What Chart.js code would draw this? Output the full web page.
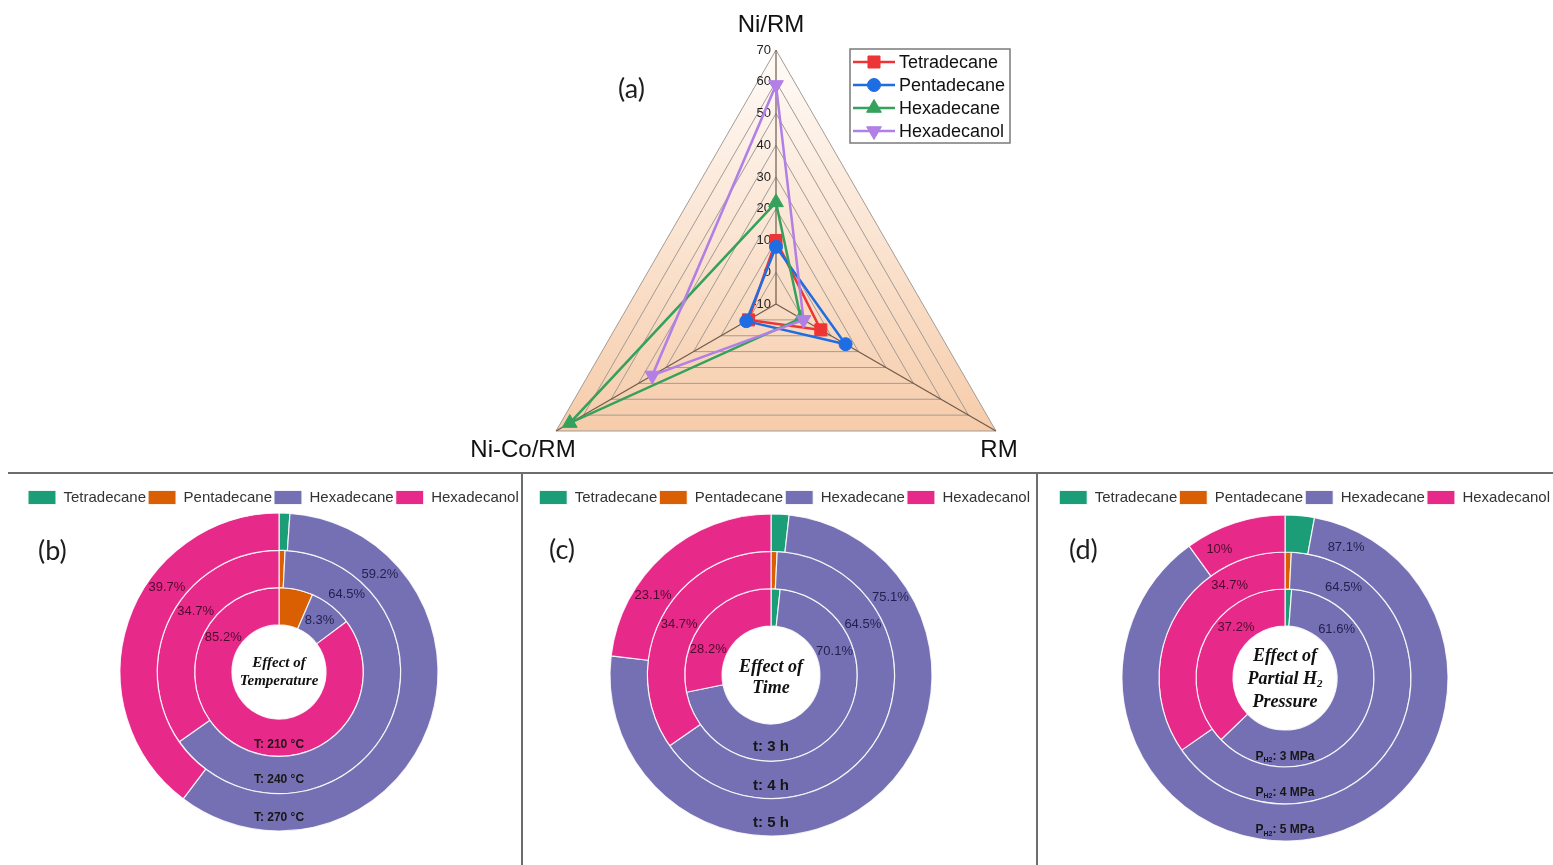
<!DOCTYPE html>
<html lang="en">
<head>
<meta charset="utf-8">
<title>Product distribution over Ni-based catalysts</title>
<script src="https://cdn.jsdelivr.net/npm/chart.js@4.4.1/dist/chart.umd.min.js"></script>
<style>
  html, body { margin: 0; padding: 0; background: #ffffff; }
  #page { position: relative; width: 1553px; height: 865px; overflow: hidden; background: #ffffff; }
  #page canvas { position: absolute; }
  .panel-tag { position: absolute; font-family: Lato, 'Open Sans', sans-serif; font-size: 27px; line-height: 27px; color: #1e1e1e; }
  .rule { position: absolute; background: #6d6d6d; }
</style>
</head>
<body>
<div id="page">
  <canvas id="radarChart" width="600" height="560" style="left:440px;top:0px"></canvas>
  <canvas id="tempChart" width="560" height="385" style="left:0px;top:480px"></canvas>
  <canvas id="timeChart" width="560" height="385" style="left:500px;top:480px"></canvas>
  <canvas id="pressChart" width="543" height="385" style="left:1010px;top:480px"></canvas>
  <div class="rule" style="left:8px;top:472px;width:1545px;height:2px"></div>
  <div class="rule" style="left:521px;top:474px;width:2px;height:391px"></div>
  <div class="rule" style="left:1036px;top:474px;width:2px;height:391px"></div>
  <div class="panel-tag" style="left:618px;top:74px">(a)</div>
  <div class="panel-tag" style="left:38px;top:536px">(b)</div>
  <div class="panel-tag" style="left:549px;top:535px">(c)</div>
  <div class="panel-tag" style="left:1069px;top:535px">(d)</div>
</div>
<script>
// ---- data -------------------------------------------------------------
const radarAxes = ['Ni/RM', 'RM', 'Ni-Co/RM'];
const radarTicks = [-10, 0, 10, 20, 30, 40, 50, 60, 70];
const productNames = ['Tetradecane', 'Pentadecane', 'Hexadecane', 'Hexadecanol'];

// yields (%) on each catalyst, in radarAxes order
const tetradecaneYield = [10, 6.3, 0];
const pentadecaneYield = [8, 15.3, 0.8];
const hexadecaneYield = [22, -1, 65];
const hexadecanolYield = [59, 0, 35];

// product shares (%) in productNames order, outer ring first
const temperatureCaptions = ['T: 270 °C', 'T: 240 °C', 'T: 210 °C'];
const temperature270 = [1.1, 0, 59.2, 39.7];
const temperature240 = [0, 0.8, 64.5, 34.7];
const temperature210 = [0, 6.5, 8.3, 85.2];

const timeCaptions = ['t: 5 h', 't: 4 h', 't: 3 h'];
const time5h = [1.8, 0, 75.1, 23.1];
const time4h = [0, 0.8, 64.5, 34.7];
const time3h = [1.7, 0, 70.1, 28.2];

const pressureCaptions = ['P_{H2}: 5 MPa', 'P_{H2}: 4 MPa', 'P_{H2}: 3 MPa'];
const pressure5 = [2.9, 0, 87.1, 10];
const pressure4 = [0, 0.8, 64.5, 34.7];
const pressure3 = [1.2, 0, 61.6, 37.2];

// ---- styling ----------------------------------------------------------
const productColors = ['#1b9e77', '#d95f02', '#7570b3', '#e7298a'];
const radarColors = ['#ee3535', '#1f6de3', '#34a15c', '#b17fe6'];
const radarMarkers = [
  { style: 'rect', radius: 8.5, rotation: 0 },
  { style: 'circle', radius: 6.5, rotation: 0 },
  { style: 'triangle', radius: 8.5, rotation: 0 },
  { style: 'triangle', radius: 8.5, rotation: 180 }
];
const SANS = "'Liberation Sans', Arial, sans-serif";
const SERIF = "'Liberation Serif', 'DejaVu Serif', serif";

Chart.defaults.font.family = SANS;
Chart.defaults.color = '#333333';

// Draws a centred line of text; "_{...}" marks a subscript run.
function drawRich(ctx, text, x, y, font, color) {
  const parts = [];
  const re = /_\{([^}]*)\}/g;
  let last = 0, m;
  while ((m = re.exec(text))) {
    if (m.index > last) parts.push({ t: text.slice(last, m.index), sub: false });
    parts.push({ t: m[1], sub: true });
    last = re.lastIndex;
  }
  if (last < text.length) parts.push({ t: text.slice(last), sub: false });
  const fontFor = sub => `${font.style || 'normal'} ${font.weight || 'normal'} ${sub ? Math.round(font.size * 0.62) : font.size}px ${font.family}`;
  let total = 0;
  parts.forEach(p => { ctx.font = fontFor(p.sub); p.w = ctx.measureText(p.t).width; total += p.w; });
  let cx = x - total / 2;
  ctx.textAlign = 'left';
  ctx.textBaseline = 'middle';
  ctx.fillStyle = color;
  parts.forEach(p => {
    ctx.font = fontFor(p.sub);
    ctx.fillText(p.t, cx, y + (p.sub ? font.size * 0.3 : 0));
    cx += p.w;
  });
}

// ---- radar panel ------------------------------------------------------
const radarDecor = {
  id: 'radarDecor',
  beforeDraw(chart, args, o) {
    const s = chart.scales.r, ctx = chart.ctx;
    const rim = chart.data.labels.map((_, i) => s.getPointPositionForValue(i, s.max));
    const ys = rim.map(p => p.y);
    const grad = ctx.createLinearGradient(0, Math.min(...ys), 0, Math.max(...ys));
    o.fillStops.forEach(([t, c]) => grad.addColorStop(t, c));
    ctx.save();
    ctx.beginPath();
    rim.forEach((p, i) => (i ? ctx.lineTo(p.x, p.y) : ctx.moveTo(p.x, p.y)));
    ctx.closePath();
    ctx.fillStyle = grad;
    ctx.fill();
    ctx.restore();
  },
  beforeDatasetsDraw(chart, args, o) {
    const s = chart.scales.r, ctx = chart.ctx;
    ctx.save();
    ctx.font = o.tickFont;
    ctx.fillStyle = o.tickColor;
    ctx.textAlign = 'right';
    ctx.textBaseline = 'middle';
    radarTicks.forEach(v => {
      const p = s.getPointPositionForValue(0, v);
      ctx.fillText(String(v), p.x - 5, p.y);
    });
    ctx.restore();
  },
  afterDraw(chart, args, o) {
    const s = chart.scales.r, ctx = chart.ctx;
    ctx.save();
    ctx.font = o.axisFont;
    ctx.fillStyle = o.axisColor;
    ctx.textAlign = 'center';
    ctx.textBaseline = 'middle';
    chart.data.labels.forEach((label, i) => {
      const p = s.getPointPositionForValue(i, s.max);
      const [dx, dy] = o.axisLabelShift[i];
      ctx.fillText(label, p.x + dx, p.y + dy);
    });
    // boxed legend
    const L = o.legend;
    ctx.fillStyle = '#ffffff';
    ctx.fillRect(L.x, L.y, L.w, L.h);
    ctx.strokeStyle = L.border;
    ctx.lineWidth = 1.5;
    ctx.strokeRect(L.x, L.y, L.w, L.h);
    chart.data.datasets.forEach((ds, i) => {
      const y = L.y + L.first + i * L.step;
      ctx.strokeStyle = ds.borderColor;
      ctx.lineWidth = ds.borderWidth;
      ctx.beginPath();
      ctx.moveTo(L.x + L.lineFrom, y);
      ctx.lineTo(L.x + L.lineTo, y);
      ctx.stroke();
      ctx.fillStyle = ds.pointBackgroundColor;
      ctx.strokeStyle = ds.pointBorderColor;
      ctx.lineWidth = 1;
      Chart.helpers.drawPoint(ctx, {
        pointStyle: ds.pointStyle, rotation: ds.pointRotation || 0,
        radius: ds.pointRadius, borderWidth: 1
      }, L.x + (L.lineFrom + L.lineTo) / 2, y);
      ctx.font = L.font;
      ctx.fillStyle = '#111111';
      ctx.textAlign = 'left';
      ctx.textBaseline = 'middle';
      ctx.fillText(ds.label, L.x + L.textX, y + 1);
    });
    ctx.restore();
  }
};

const radarYields = [tetradecaneYield, pentadecaneYield, hexadecaneYield, hexadecanolYield];

new Chart(document.getElementById('radarChart'), {
  type: 'radar',
  data: {
    labels: radarAxes,
    datasets: radarYields.map((vals, i) => ({
      label: productNames[i],
      data: vals,
      borderColor: radarColors[i],
      backgroundColor: radarColors[i],
      pointBackgroundColor: radarColors[i],
      pointBorderColor: radarColors[i],
      pointStyle: radarMarkers[i].style,
      pointRotation: radarMarkers[i].rotation,
      pointRadius: radarMarkers[i].radius,
      pointBorderWidth: 1,
      borderWidth: 2.5,
      fill: false,
      order: radarYields.length - 1 - i
    }))
  },
  options: {
    responsive: false,
    animation: false,
    devicePixelRatio: 1,
    layout: { padding: { left: 82, right: 10, top: 50, bottom: 2 } },
    scales: {
      r: {
        min: radarTicks[0],
        max: radarTicks[radarTicks.length - 1],
        ticks: { display: false, stepSize: radarTicks[1] - radarTicks[0] },
        grid: { color: '#a39b94', lineWidth: 1 },
        angleLines: { color: '#6f5b4b', lineWidth: 1.2 },
        pointLabels: { display: false }
      }
    },
    plugins: {
      legend: { display: false },
      tooltip: { enabled: false },
      radarDecor: {
        fillStops: [[0, '#fffbf8'], [0.45, '#fbe6d5'], [1, '#f6ccaa']],
        tickFont: `13px ${SANS}`,
        tickColor: '#222222',
        axisFont: `24px ${SANS}`,
        axisColor: '#111111',
        axisLabelShift: [[-5, -25], [3, 19], [-33, 19]],
        legend: {
          x: 410, y: 49, w: 160, h: 94, border: '#7a7a7a',
          first: 13, step: 23, lineFrom: 3, lineTo: 45, textX: 49,
          font: `18px ${SANS}`
        }
      }
    }
  },
  plugins: [radarDecor]
});

// ---- nested doughnut panels -------------------------------------------
const ringDecor = {
  id: 'ringDecor',
  afterDatasetsDraw(chart, args, o) {
    const ctx = chart.ctx;
    ctx.save();
    let cx = 0, cy = 0;
    chart.data.datasets.forEach((ds, di) => {
      const arc = chart.getDatasetMeta(di).data[0];
      cx = arc.x; cy = arc.y;
      const mid = (arc.innerRadius + arc.outerRadius) / 2;
      o.valueSlices.forEach((sliceIdx, k) => {
        const a = o.valueAngles[di][k] * Math.PI / 180;
        ctx.font = o.valueFont;
        ctx.fillStyle = o.valueColors[k];
        ctx.textAlign = 'center';
        ctx.textBaseline = 'middle';
        ctx.fillText(ds.data[sliceIdx] + '%', cx + mid * Math.sin(a), cy - mid * Math.cos(a));
      });
      drawRich(ctx, ds.label, cx, cy + mid + o.captionLift[di], o.captionFont, '#161616');
    });
    const lines = o.centerLines;
    const h = (lines.length - 1) * o.centerSpacing;
    lines.forEach((t, i) => drawRich(ctx, t, cx, cy + o.centerShift - h / 2 + i * o.centerSpacing, o.centerFont, '#111111'));
    ctx.restore();
  }
};

function ringChart(id, rings, captions, o) {
  const chart = new Chart(document.getElementById(id), {
    type: 'doughnut',
    data: {
      labels: productNames,
      datasets: rings.map((vals, i) => ({
        label: captions[i],
        data: vals,
        backgroundColor: productColors,
        borderColor: 'rgba(255,255,255,0.85)',
        borderWidth: 1.2,
        clip: false
      }))
    },
    options: {
      responsive: false,
      animation: false,
      devicePixelRatio: 1,
      radius: o.radius,
      cutout: o.cutout,
      layout: { padding: { left: o.padLeft, right: o.padRight, top: 8, bottom: 0 } },
      plugins: {
        legend: {
          position: 'top',
          align: o.legendAlign,
          labels: { boxWidth: 28, boxHeight: 14, padding: 2, color: '#333333', font: { size: 15, family: SANS } }
        },
        tooltip: { enabled: false },
        ringDecor: o.decor
      }
    },
    plugins: [ringDecor]
  });
  // keep the ring centre at the requested height below the legend
  const top = chart.chartArea.top;
  chart.options.layout.padding.bottom = chart.height - (2 * o.centerY - top);
  chart.update();
  return chart;
}

const valueColors = ['#221f4f', '#4d0b2e'];

ringChart('tempChart', [temperature270, temperature240, temperature210], temperatureCaptions, {
  radius: 159, cutout: '29.6%', padLeft: 26, padRight: 28, legendAlign: 'start', centerY: 192,
  decor: {
    valueSlices: [2, 3], valueAngles: [[46, 307], [41, 306], [38, 302]],
    valueFont: `13px ${SANS}`, valueColors,
    captionLift: [5, 5, 7], captionFont: { size: 12, weight: 'bold', family: SANS },
    centerLines: ['Effect of', 'Temperature'], centerSpacing: 18, centerShift: 0,
    centerFont: { size: 15, weight: 'bold', style: 'italic', family: SERIF }
  }
});

ringChart('timeChart', [time5h, time4h, time3h], timeCaptions, {
  radius: 161, cutout: '30.4%', padLeft: 10, padRight: 28, legendAlign: 'end', centerY: 195,
  decor: {
    valueSlices: [2, 3], valueAngles: [[57, 304], [61, 299], [70, 292]],
    valueFont: `13px ${SANS}`, valueColors,
    captionLift: [6, 6, 4], captionFont: { size: 15, weight: 'bold', family: SANS },
    centerLines: ['Effect of', 'Time'], centerSpacing: 21, centerShift: 3,
    centerFont: { size: 18, weight: 'bold', style: 'italic', family: SERIF }
  }
});

ringChart('pressChart', [pressure5, pressure4, pressure3], pressureCaptions, {
  radius: 163, cutout: '31.9%', padLeft: 8, padRight: 1, legendAlign: 'end', centerY: 198,
  decor: {
    valueSlices: [2, 3], valueAngles: [[25, 333], [33, 329], [47, 316]],
    valueFont: `13px ${SANS}`, valueColors,
    captionLift: [7.5, 7, 8], captionFont: { size: 12, weight: 'bold', family: SANS },
    centerLines: ['Effect of', 'Partial H_{2}', 'Pressure'], centerSpacing: 23, centerShift: 1,
    centerFont: { size: 18, weight: 'bold', style: 'italic', family: SERIF }
  }
});
</script>
</body>
</html>
